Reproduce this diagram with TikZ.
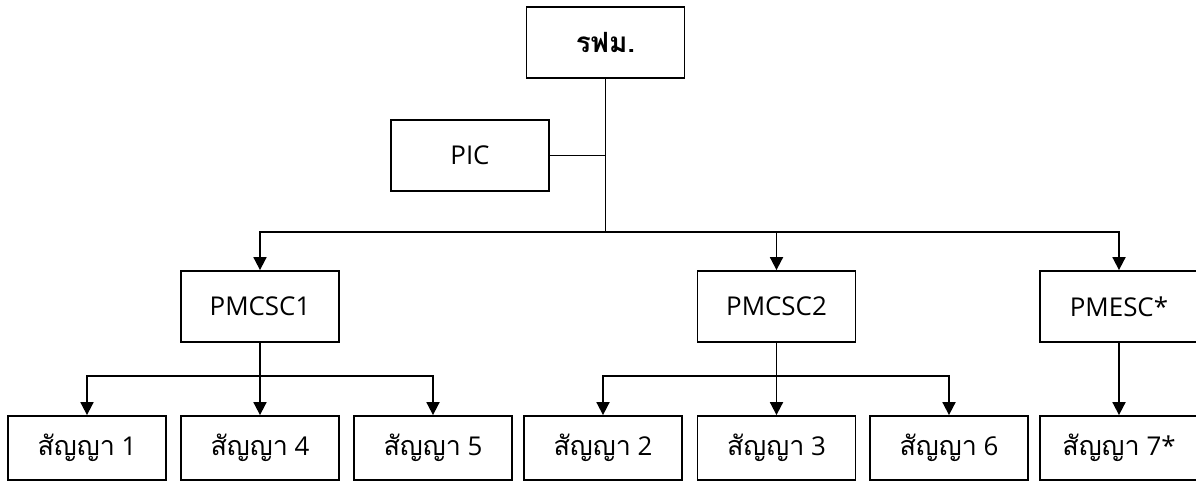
\documentclass[tikz,border=0pt]{standalone}
\usepackage{fontspec}
\newfontfamily\thaifont[Script=Thai]{Loma}
\newfontfamily\latinfont{Open Sans}
\newcommand{\thword}[1]{{\thaifont\fontsize{27}{32}\selectfont #1}}
\usetikzlibrary{arrows.meta}
\tikzset{
  box/.style={draw, line width=1.8bp, minimum width=158bp, minimum height=71bp, inner sep=0pt, font=\latinfont\fontsize{26}{30}\selectfont},
  leaf/.style={box, minimum height=64bp},
  link/.style={line width=1.8bp},
  arr/.style={link, -{Triangle[length=13bp,width=13bp]}}
}
\begin{document}
\begin{tikzpicture}[x=1bp,y=-1bp]
\useasboundingbox (0,0) rectangle (1196,482);
\clip (0,0) rectangle (1196,482);
\node[box, font=\thaifont\bfseries\fontsize{28}{32}\selectfont] (top) at (605.5,42.5) {รฟม.};
\node[box] (pic) at (470,155.5) {PIC};
\node[box] (p1) at (260,306.5) {PMCSC1};
\node[box] (p2) at (776.5,306.5) {PMCSC2};
\node[box] (p3) at (1119,306.5) {PMESC*};
\node[leaf] (c1) at (87,448) {\thword{สัญญา} 1};
\node[leaf] (c4) at (260,448) {\thword{สัญญา} 4};
\node[leaf] (c5) at (433,448) {\thword{สัญญา} 5};
\node[leaf] (c2) at (603,448) {\thword{สัญญา} 2};
\node[leaf] (c3) at (776.5,448) {\thword{สัญญา} 3};
\node[leaf] (c6) at (949,448) {\thword{สัญญา} 6};
\node[leaf] (c7) at (1119,448) {\thword{สัญญา} 7*};
\coordinate (bus) at (605.5,232);
\draw[link] (top.south) -- (bus);
\draw[link] (pic.east) -- (pic.east -| top.south);
\draw[arr] (bus) -| (p1.north);
\draw[arr] (bus) -| (p2.north);
\draw[arr] (bus) -| (p3.north);
\coordinate (b1) at (260,376);
\coordinate (b2) at (776.5,376);
\draw[link] (p1.south) -- (b1);
\draw[arr] (b1) -| (c1.north);
\draw[arr] (b1) -- (c4.north);
\draw[arr] (b1) -| (c5.north);
\draw[link] (p2.south) -- (b2);
\draw[arr] (b2) -| (c2.north);
\draw[arr] (b2) -- (c3.north);
\draw[arr] (b2) -| (c6.north);
\draw[arr] (p3.south) -- (c7.north);
\end{tikzpicture}
\end{document}
